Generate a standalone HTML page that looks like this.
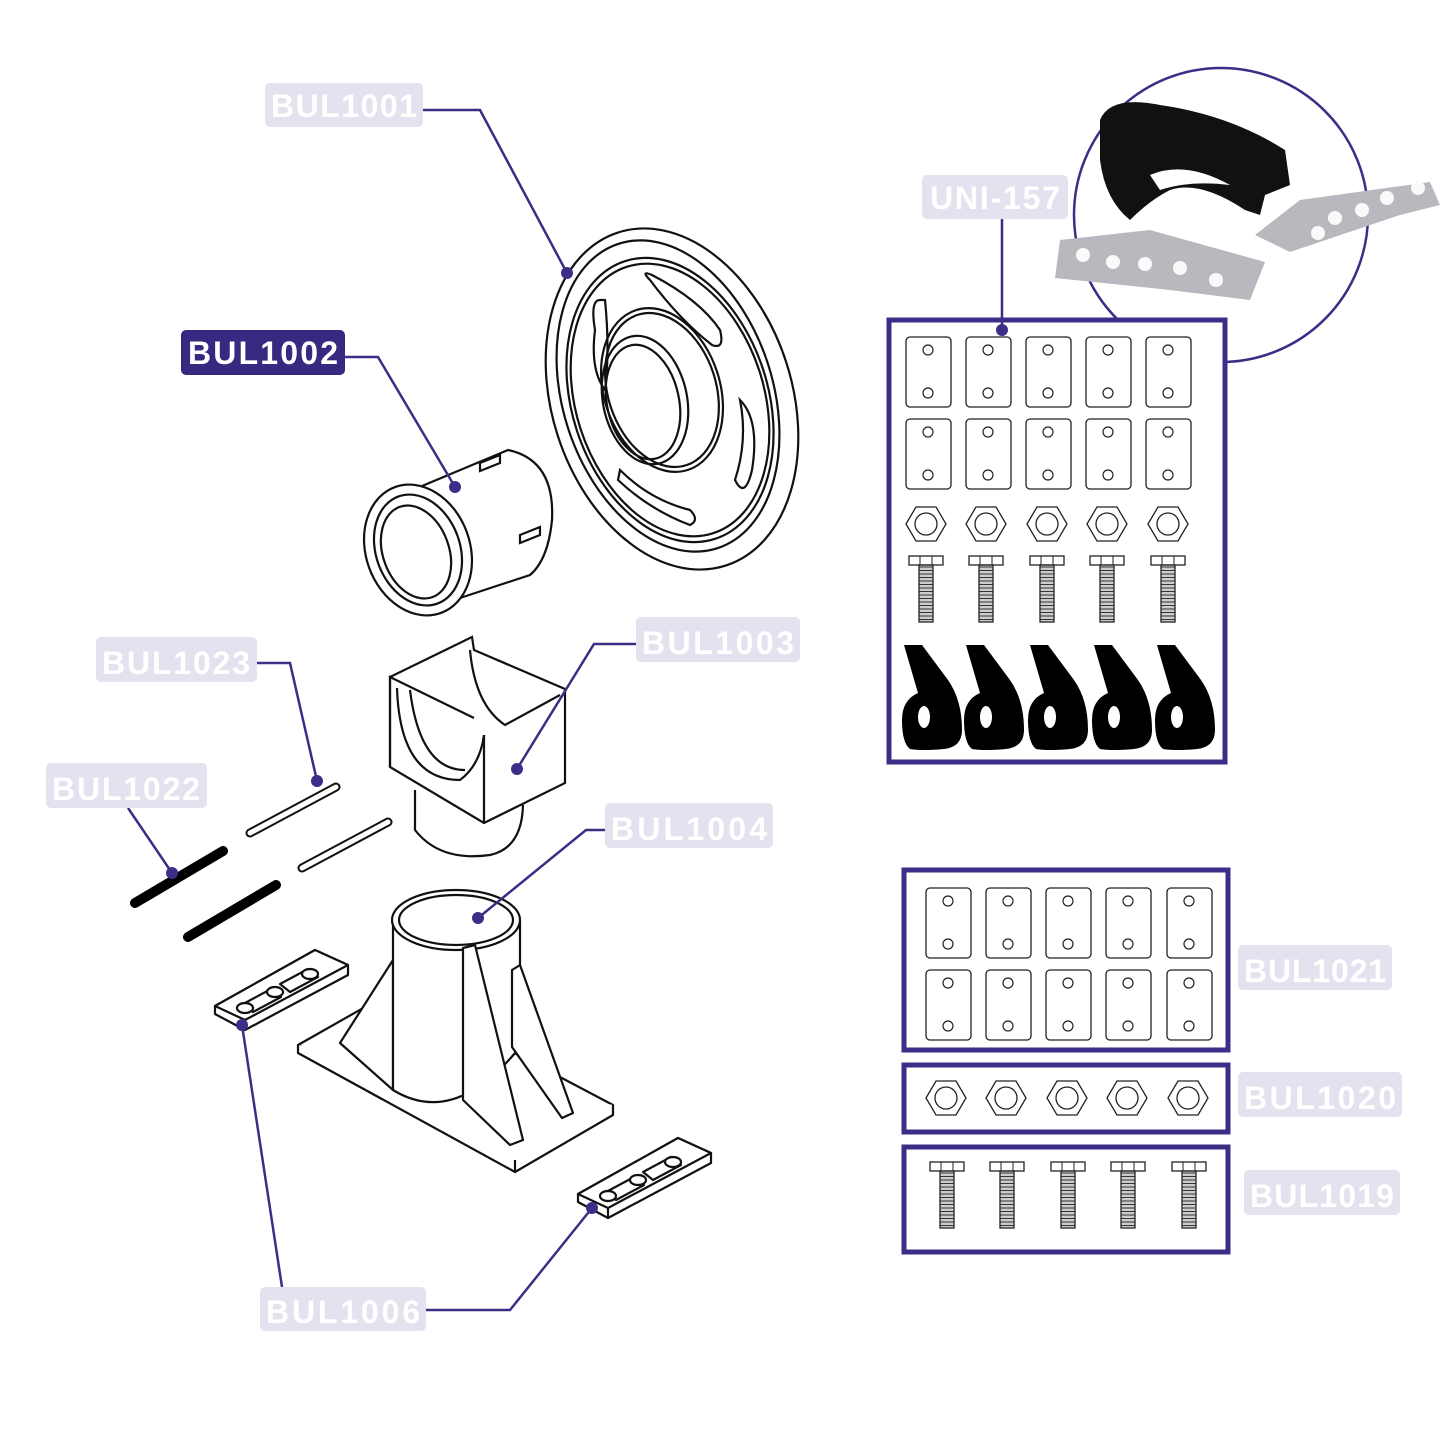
<!DOCTYPE html>
<html><head><meta charset="utf-8"><style>
html,body{margin:0;padding:0;background:#fff}
svg{display:block}
.lb{font-family:"Liberation Sans",sans-serif;font-weight:bold;font-size:32px;fill:#fff}
</style></head><body>
<svg width="1445" height="1445" viewBox="0 0 1445 1445" xmlns="http://www.w3.org/2000/svg">
<defs>
<g id="plate"><rect x="-22" y="0" width="45" height="70" rx="4" fill="#fff" stroke="#222" stroke-width="1.3"/><circle cx="0" cy="13" r="5" fill="none" stroke="#222" stroke-width="1.2"/><circle cx="0" cy="56" r="5" fill="none" stroke="#222" stroke-width="1.2"/></g>
<g id="nut"><polygon points="-20,0 -10,-17 10,-17 20,0 10,17 -10,17" fill="#fff" stroke="#222" stroke-width="1.3"/><circle r="11" fill="none" stroke="#222" stroke-width="1.3"/></g>
<pattern id="thr" width="14" height="3.5" patternUnits="userSpaceOnUse"><rect width="14" height="3.5" fill="#ccc"/><line x1="0" y1="0.5" x2="14" y2="0.5" stroke="#222" stroke-width="0.9"/></pattern>
<g id="bolt"><rect x="-17" y="0" width="34" height="9" fill="#fff" stroke="#222" stroke-width="1.3"/><line x1="-6" y1="0" x2="-6" y2="9" stroke="#222"/><line x1="6" y1="0" x2="6" y2="9" stroke="#222"/><rect x="-7" y="9" width="14" height="57" fill="url(#thr)" stroke="#222" stroke-width="1.3"/></g>
<g id="roll"><path d="M-28,-50 L-10,-50 L16,-15 Q30,5 30,35 Q30,52 12,54 Q-10,56 -22,54 Q-30,48 -30,25 Q-30,5 -14,-2 Z" fill="#000"/><ellipse cx="-8" cy="22" rx="6" ry="11" fill="#fff"/></g>
<g id="clip" fill="#fff" stroke="#111" stroke-width="2.2" stroke-linejoin="round">
<polygon points="0,6 100,-50 133,-35 133,-25 30,30 0,14"/>
<polygon points="0,6 100,-50 133,-35 30,20"/>
<line x1="30" y1="20" x2="30" y2="30"/>
<path d="M28,4 l28,-15 l10,8 l-28,15 z M65,-16 l28,-15 l10,8 l-28,15 z"/>
<ellipse cx="30" cy="8" rx="8" ry="5"/><ellipse cx="60" cy="-8" rx="8" ry="5"/><ellipse cx="95" cy="-26" rx="8" ry="5"/>
</g>
</defs>

<!-- photo circle -->
<circle cx="1221" cy="215" r="147" fill="none" stroke="#3b2e86" stroke-width="2.5"/>
<path d="M1100,120 Q1110,95 1160,105 Q1230,115 1285,150 L1290,185 L1265,195 L1260,215 L1245,210 Q1200,180 1170,190 Q1150,200 1130,220 Q1105,200 1100,160 Z" fill="#111"/>
<path d="M1150,175 Q1185,160 1230,185 Q1190,180 1160,190 Z" fill="#fff"/>
<polygon points="1060,240 1150,230 1265,262 1250,300 1170,290 1055,278" fill="#b8b8be"/>
<polygon points="1255,235 1300,200 1430,182 1440,205 1400,215 1290,252" fill="#b8b8be"/>
<g fill="#fafafa"><circle cx="1083" cy="255" r="7"/><circle cx="1113" cy="262" r="7"/><circle cx="1145" cy="264" r="7"/><circle cx="1180" cy="268" r="7"/><circle cx="1216" cy="280" r="7"/><circle cx="1318" cy="233" r="7"/><circle cx="1335" cy="218" r="7"/><circle cx="1362" cy="210" r="7"/><circle cx="1387" cy="198" r="7"/><circle cx="1418" cy="188" r="7"/></g>

<!-- UNI-157 box -->
<rect x="889" y="320" width="336" height="442" fill="#fff" stroke="#3b2e86" stroke-width="5"/>
<g><use href="#plate" x="928" y="337"/><use href="#plate" x="988" y="337"/><use href="#plate" x="1048" y="337"/><use href="#plate" x="1108" y="337"/><use href="#plate" x="1168" y="337"/>
<use href="#plate" x="928" y="419"/><use href="#plate" x="988" y="419"/><use href="#plate" x="1048" y="419"/><use href="#plate" x="1108" y="419"/><use href="#plate" x="1168" y="419"/>
<use href="#nut" x="926" y="524"/><use href="#nut" x="986" y="524"/><use href="#nut" x="1047" y="524"/><use href="#nut" x="1107" y="524"/><use href="#nut" x="1168" y="524"/>
<use href="#bolt" x="926" y="556"/><use href="#bolt" x="986" y="556"/><use href="#bolt" x="1047" y="556"/><use href="#bolt" x="1107" y="556"/><use href="#bolt" x="1168" y="556"/>
<use href="#roll" x="932" y="695"/><use href="#roll" x="994" y="695"/><use href="#roll" x="1058" y="695"/><use href="#roll" x="1122" y="695"/><use href="#roll" x="1185" y="695"/></g>

<!-- BUL1021 -->
<rect x="904" y="870" width="324" height="180" fill="#fff" stroke="#3b2e86" stroke-width="5"/>
<use href="#plate" x="948" y="888"/><use href="#plate" x="1008" y="888"/><use href="#plate" x="1068" y="888"/><use href="#plate" x="1128" y="888"/><use href="#plate" x="1189" y="888"/>
<use href="#plate" x="948" y="970"/><use href="#plate" x="1008" y="970"/><use href="#plate" x="1068" y="970"/><use href="#plate" x="1128" y="970"/><use href="#plate" x="1189" y="970"/>
<rect x="904" y="1065" width="324" height="67" fill="#fff" stroke="#3b2e86" stroke-width="5"/>
<use href="#nut" x="946" y="1098"/><use href="#nut" x="1006" y="1098"/><use href="#nut" x="1067" y="1098"/><use href="#nut" x="1127" y="1098"/><use href="#nut" x="1188" y="1098"/>
<rect x="904" y="1147" width="324" height="105" fill="#fff" stroke="#3b2e86" stroke-width="5"/>
<use href="#bolt" x="947" y="1162"/><use href="#bolt" x="1007" y="1162"/><use href="#bolt" x="1068" y="1162"/><use href="#bolt" x="1128" y="1162"/><use href="#bolt" x="1189" y="1162"/>

<!-- wheel -->
<g fill="none" stroke="#111" stroke-width="2.2">
<ellipse cx="672" cy="399" rx="120" ry="175" transform="rotate(-18 672 399)"/>
<ellipse cx="668" cy="396" rx="105" ry="160" transform="rotate(-18 668 396)"/>
<ellipse cx="670" cy="400" rx="98" ry="146" transform="rotate(-18 670 400)"/>
<ellipse cx="670" cy="400" rx="94" ry="140" transform="rotate(-18 670 400)"/>
<ellipse cx="662" cy="390" rx="58" ry="84" transform="rotate(-18 662 390)"/>
<ellipse cx="662" cy="390" rx="54" ry="79" transform="rotate(-18 662 390)"/>
<ellipse cx="645" cy="400" rx="42" ry="65" transform="rotate(-12 645 400)"/>
<ellipse cx="643" cy="402" rx="36" ry="58" transform="rotate(-12 643 402)"/>
<path d="M650,280 Q640,270 652,275 Q700,300 720,330 Q725,350 712,345 Q680,320 650,280Z"/>
<path d="M600,300 Q590,300 595,330 Q590,370 605,390 Q610,350 605,300Z"/>
<path d="M740,400 Q760,420 752,470 Q745,500 735,480 Q748,440 740,400Z"/>
<path d="M620,470 Q650,500 690,510 Q700,520 690,525 Q650,510 618,480Z"/>
<!-- bushing -->
<ellipse cx="418" cy="550" rx="52" ry="67" transform="rotate(-20 418 550)"/>
<ellipse cx="418" cy="550" rx="42" ry="57" transform="rotate(-20 418 550)"/>
<ellipse cx="416" cy="552" rx="33" ry="48" transform="rotate(-20 416 552)"/>
<path d="M422,486 L508,450 Q555,460 552,520 Q548,560 530,575 L460,598"/>
<path d="M480,463 l20,-8 l0,8 l-20,8z M520,535 l20,-8 l0,8 l-20,8z"/>
<!-- saddle -->
<path d="M390,677 L472,637 L474,650 L565,689 L565,783 L484,823 L390,767 Z"/>
<path d="M484,735 L484,823 M390,767 L390,677 L474,718"/>
<path d="M397,688 Q400,780 460,780 Q480,765 484,735"/>
<path d="M410,690 Q420,770 465,770"/>
<path d="M470,650 Q475,705 505,725 L560,695"/>
<path d="M415,790 L415,830 Q440,862 490,855 Q522,848 523,805"/>
<path d="M250,833 L336,787" stroke-width="9" stroke-linecap="round"/>
<path d="M302,868 L388,822" stroke-width="9" stroke-linecap="round"/>
</g>
<path d="M250,833 L336,787 M302,868 L388,822" stroke="#fff" stroke-width="5" stroke-linecap="round"/>
<path d="M135,903 L223,851 M188,937 L276,885" stroke="#000" stroke-width="10" stroke-linecap="round"/>

<!-- base -->
<g fill="#fff" stroke="#111" stroke-width="2.2" stroke-linejoin="round">
<polygon points="298,1045 395,990 613,1105 515,1160"/>
<polyline points="298,1045 298,1053 515,1172 613,1115 613,1105"/>
<line x1="515" y1="1160" x2="515" y2="1172"/>
<polygon points="340,1043 393,960 393,1090"/>
<path d="M393,1090 L393,920 L520,920 L520,1047 Q455,1128 393,1090 Z"/>
<ellipse cx="456" cy="920" rx="64" ry="30"/>
<ellipse cx="456" cy="920" rx="57" ry="25"/>
<polygon points="463,1100 463,948 475,945 523,1140 510,1145"/>
<polygon points="512,1047 512,970 520,965 573,1113 562,1118"/>
</g>
<use href="#clip" x="215" y="1000"/>
<use href="#clip" x="578" y="1188"/>

<!-- leader lines -->
<g fill="none" stroke="#3b2e86" stroke-width="2.5">
<polyline points="423,110 480,110 567,273"/>
<polyline points="345,357 378,357 455,487"/>
<polyline points="1002,219 1002,330"/>
<polyline points="257,663 290,663 317,781"/>
<polyline points="636,644 594,644 517,769"/>
<polyline points="128,808 172,873"/>
<polyline points="605,830 586,830 478,918"/>
<polyline points="426,1310 510,1310 592,1208"/>
<polyline points="282,1287 242,1025"/>
</g>
<g fill="#3b2e86"><circle cx="567" cy="273" r="6"/><circle cx="455" cy="487" r="6"/><circle cx="1002" cy="330" r="6"/><circle cx="317" cy="781" r="6"/><circle cx="517" cy="769" r="6"/><circle cx="172" cy="873" r="6"/><circle cx="478" cy="918" r="6"/><circle cx="592" cy="1208" r="6"/><circle cx="242" cy="1025" r="6"/></g>

<!-- labels -->
<g fill="#e5e2ef">
<rect x="265" y="83" width="158" height="44" rx="5"/>
<rect x="922" y="175" width="146" height="44" rx="5"/>
<rect x="96" y="637" width="161" height="45" rx="5"/>
<rect x="636" y="617" width="164" height="45" rx="5"/>
<rect x="46" y="763" width="161" height="45" rx="5"/>
<rect x="605" y="803" width="168" height="45" rx="5"/>
<rect x="1238" y="945" width="154" height="45" rx="5"/>
<rect x="1238" y="1072" width="164" height="45" rx="5"/>
<rect x="1244" y="1170" width="156" height="45" rx="5"/>
<rect x="260" y="1287" width="166" height="44" rx="5"/>
</g>
<rect x="181" y="330" width="164" height="45" rx="5" fill="#36297f"/>
<text class="lb" x="344" y="117" text-anchor="middle" textLength="146">BUL1001</text>
<text class="lb" x="263" y="364" text-anchor="middle" textLength="150">BUL1002</text>
<text class="lb" x="995" y="209" text-anchor="middle" textLength="130">UNI-157</text>
<text class="lb" x="176" y="674" text-anchor="middle" textLength="148">BUL1023</text>
<text class="lb" x="718" y="654" text-anchor="middle" textLength="152">BUL1003</text>
<text class="lb" x="126" y="800" text-anchor="middle" textLength="148">BUL1022</text>
<text class="lb" x="689" y="840" text-anchor="middle" textLength="156">BUL1004</text>
<text class="lb" x="1315" y="982" text-anchor="middle" textLength="142">BUL1021</text>
<text class="lb" x="1320" y="1109" text-anchor="middle" textLength="152">BUL1020</text>
<text class="lb" x="1322" y="1207" text-anchor="middle" textLength="144">BUL1019</text>
<text class="lb" x="343" y="1323" text-anchor="middle" textLength="154">BUL1006</text>
</svg>
</body></html>
